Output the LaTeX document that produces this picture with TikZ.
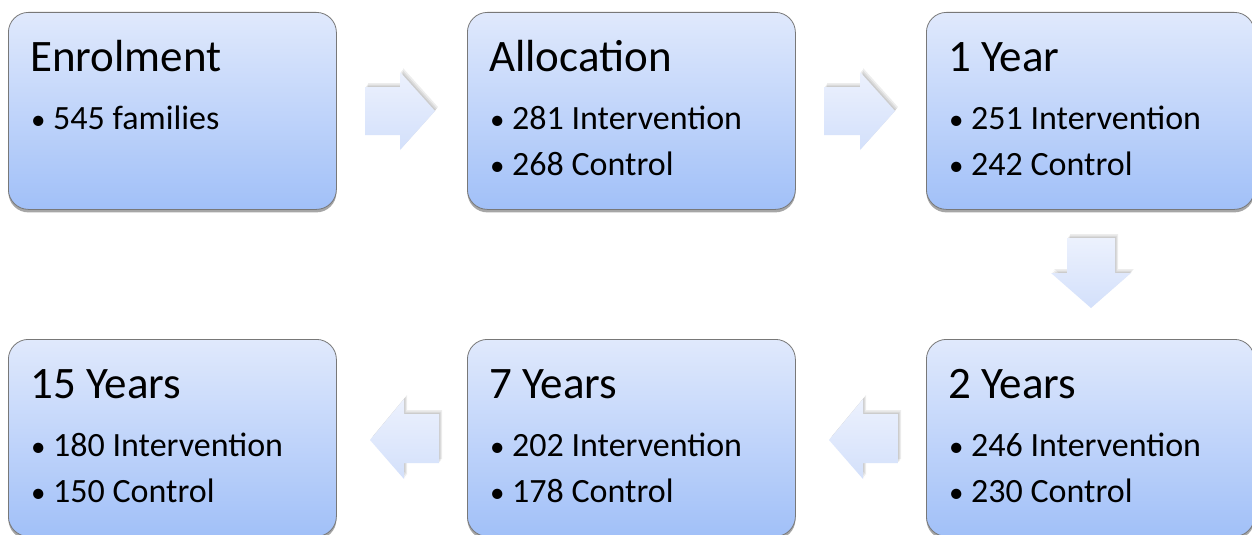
\documentclass[tikz,border=0pt]{standalone}
\usepackage{fontspec}
\setmainfont{Carlito}
\usetikzlibrary{shadows}
\definecolor{boxtop}{RGB}{224,233,252}
\definecolor{boxbot}{RGB}{161,192,248}
\definecolor{boxline}{RGB}{120,120,120}
\definecolor{arrtop}{RGB}{236,241,253}
\definecolor{arrbot}{RGB}{211,224,251}
\tikzset{
  stagebox/.style={draw=boxline, line width=0.8pt, rounded corners=20pt,
    top color=boxtop, bottom color=boxbot, minimum width=328pt, minimum height=197pt,
    inner sep=0pt, anchor=north west,
    drop shadow={shadow xshift=0pt, shadow yshift=-3pt, opacity=0.35, fill=black}},
  titletext/.style={anchor=base west, inner sep=0pt, font=\fontsize{45}{50}\selectfont},
  bullettext/.style={anchor=base west, inner sep=0pt, font=\fontsize{34}{40}\selectfont},
  bulletdot/.style={anchor=base west, inner sep=0pt, font=\fontsize{29}{34}\selectfont},
  blockarrow/.style={top color=arrtop, bottom color=arrbot, draw=none},
  arrowshadow/.style={fill=black, opacity=0.07},
}
\newcommand{\bul}[3]{%
  \node[bulletdot] at ([xshift=23pt,yshift=#2]#1.north west) {•};
  \node[bullettext] at ([xshift=45pt,yshift=#2]#1.north west) {#3};
}
\newcommand{\arrowpaths}[1]{%
  \path[#1] (365,87) -- (400,87) -- (400,72) -- (435,111) -- (400,150) -- (400,135) -- (365,135) -- cycle;
  \path[#1] (824,87) -- (860,87) -- (860,72) -- (895,111) -- (860,150) -- (860,135) -- (824,135) -- cycle;
  \path[#1] (1067,238) -- (1115,238) -- (1115,273) -- (1131,273) -- (1091,308) -- (1051,273) -- (1067,273) -- cycle;
  \path[#1] (898,414) -- (863,414) -- (863,399) -- (829,440) -- (863,479) -- (863,463) -- (898,463) -- cycle;
  \path[#1] (439,414) -- (404,414) -- (404,399) -- (370,440) -- (404,479) -- (404,463) -- (439,463) -- cycle;
}
\begin{document}
\begin{tikzpicture}[x=1pt,y=-1pt]
\useasboundingbox (0,0) rectangle (1252,535);
\clip (0,0) rectangle (1252,535);
\fill[white] (0,0) rectangle (1252,535);
% boxes
\node[stagebox] (enrol) at (8,12) {};
\node[stagebox] (alloc) at (467,12) {};
\node[stagebox] (y1) at (926,12) {};
\node[stagebox] (y2) at (926,339) {};
\node[stagebox] (y7) at (467,339) {};
\node[stagebox] (y15) at (8,339) {};
% titles
\foreach \n/\t in {enrol/Enrolment, alloc/Allocation, y1/1 Year, y2/2 Years, y7/7 Years, y15/15 Years}{
  \node[titletext] (\n-title) at ([xshift=22pt,yshift=-59pt]\n.north west) {\t};
}
% bullets
\bul{enrol}{-117pt}{545 families}
\bul{alloc}{-117pt}{281 Intervention}
\bul{alloc}{-163pt}{268 Control}
\bul{y1}{-117pt}{251 Intervention}
\bul{y1}{-163pt}{242 Control}
\bul{y2}{-117pt}{246 Intervention}
\bul{y2}{-163pt}{230 Control}
\bul{y7}{-117pt}{202 Intervention}
\bul{y7}{-163pt}{178 Control}
\bul{y15}{-117pt}{180 Intervention}
\bul{y15}{-163pt}{150 Control}
% block arrows with soft shadows
\begin{scope}[xshift=3pt,yshift=4pt]\arrowpaths{arrowshadow}\end{scope}
\begin{scope}[xshift=2pt,yshift=2.5pt]\arrowpaths{arrowshadow}\end{scope}
\begin{scope}[xshift=1pt,yshift=1.2pt]\arrowpaths{arrowshadow}\end{scope}
\arrowpaths{blockarrow}
\end{tikzpicture}
\end{document}
